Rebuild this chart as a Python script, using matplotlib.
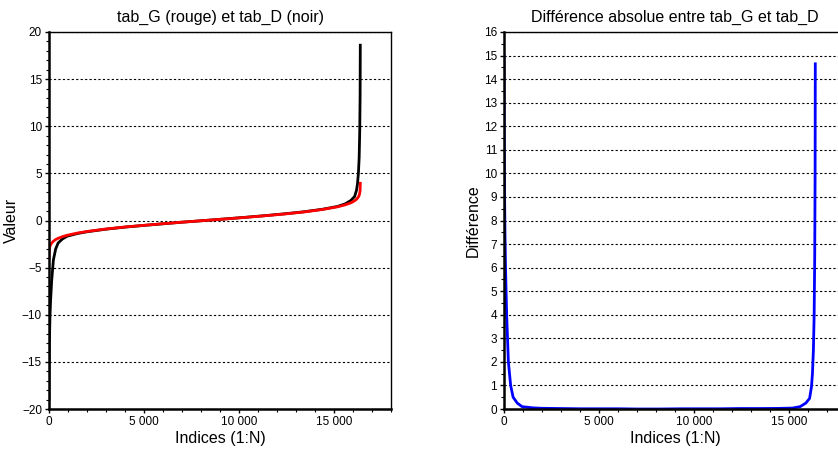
import numpy as np
import matplotlib
matplotlib.use("Agg")
import matplotlib.pyplot as plt
from matplotlib.ticker import MultipleLocator, FuncFormatter

plt.rcParams['font.family'] = ['Liberation Sans', 'DejaVu Sans']

idx = [1, 5, 20, 50, 80, 140, 230, 350, 480, 700, 950, 1500, 2000, 3000, 4000,
       5000, 6000, 7000, 8192, 9400, 10400, 11400, 12400, 13400, 14384,
       15184, 15584, 15884, 16084, 16184, 16234, 16284, 16324, 16354, 16374, 16384]

# tab_G (red, close to normal quantiles)
tab_G = [-4.00, -3.45, -3.03, -2.74, -2.58, -2.39, -2.20, -2.02, -1.89, -1.72, -1.57,
         -1.33, -1.165, -0.90, -0.69, -0.51, -0.34, -0.18, 0.00, 0.18, 0.34, 0.51,
         0.69, 0.90, 1.165, 1.45, 1.66, 1.87, 2.09, 2.25, 2.37, 2.50, 2.66, 2.90, 3.20, 3.95]

# tab_D (black, heavy tails)
tab_D = [-19.0, -15.95, -13.0, -10.24, -8.6, -6.4, -4.2, -3.02, -2.39, -1.97, -1.67,
         -1.38, -1.195, -0.92, -0.70, -0.52, -0.35, -0.18, 0.00, 0.19, 0.35, 0.52,
         0.71, 0.92, 1.19, 1.49, 1.76, 2.12, 2.54, 3.20, 3.87, 5.00, 6.66, 9.40, 13.2, 18.6]

diff = np.abs(np.array(tab_G) - np.array(tab_D))


def fmt_thousands(x, pos):
    return f"{int(round(x)):,}".replace(",", " ")


def style_axes(ax):
    ax.spines['left'].set_linewidth(1.8)
    ax.spines['bottom'].set_linewidth(1.8)
    ax.spines['top'].set_linewidth(1.0)
    ax.spines['right'].set_linewidth(1.0)
    ax.xaxis.set_major_locator(MultipleLocator(5000))
    ax.xaxis.set_minor_locator(MultipleLocator(1000))
    ax.xaxis.set_major_formatter(FuncFormatter(fmt_thousands))
    ax.tick_params(which='major', length=3, width=1, labelsize=8.5, pad=2)
    ax.tick_params(which='minor', length=2, width=0.8)
    ax.yaxis.grid(True, which='major', linestyle=(0, (2, 2)), color='black', linewidth=0.8)
    ax.set_axisbelow(True)
    ax.set_xlim(0, 18000)
    ax.set_xlabel('Indices (1:N)', fontsize=11.5, labelpad=2)


fig = plt.figure(figsize=(8.38, 4.5), dpi=100)

ax1 = fig.add_axes([49 / 838, 41 / 450, 342 / 838, 377 / 450])
ax1.plot(idx, tab_D, color='black', linewidth=2)
ax1.plot(idx, tab_G, color='red', linewidth=2)
style_axes(ax1)
ax1.set_ylim(-20, 20)
ax1.yaxis.set_major_locator(MultipleLocator(5))
ax1.yaxis.set_minor_locator(MultipleLocator(1))
ax1.set_ylabel('Valeur', fontsize=11.5, labelpad=2)
ax1.set_title('tab_G (rouge) et tab_D (noir)', fontsize=11.5, pad=7)

ax2 = fig.add_axes([504 / 838, 41 / 450, 342 / 838, 377 / 450])
ax2.plot(idx, diff, color='blue', linewidth=2)
style_axes(ax2)
ax2.set_ylim(0, 16)
ax2.yaxis.set_major_locator(MultipleLocator(1))
ax2.yaxis.set_minor_locator(MultipleLocator(0.5))
ax2.set_ylabel('Différence', fontsize=11.5, labelpad=2)
ax2.set_title('Différence absolue entre tab_G et tab_D', fontsize=11.5, pad=7)

fig.savefig('out.png', dpi=100)
